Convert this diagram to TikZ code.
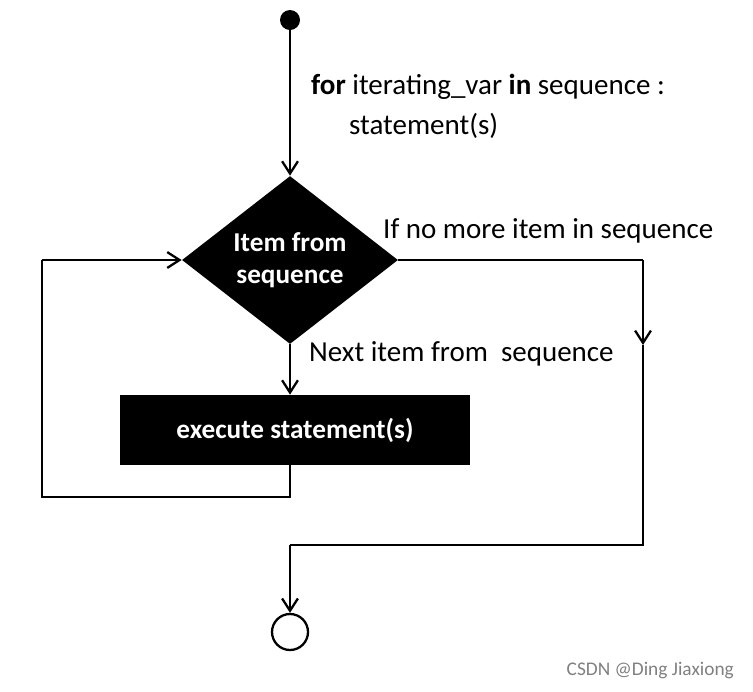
\documentclass[tikz,border=0pt]{standalone}
\usepackage{fontspec}
\setmainfont{Carlito}
\usetikzlibrary{arrows.meta,positioning,shapes.geometric}

\begin{document}
\begin{tikzpicture}[x=0.02cm,y=-0.02cm,
    flow/.style={-{Straight Barb[length=7pt,width=9pt]}, line width=1.3pt},
    line/.style={line width=1.3pt},
    lbl/.style={font=\fontsize{16.5}{20}\selectfont, anchor=west},
    inv/.style={fill=black, text=white, font=\fontsize{15.5}{18}\selectfont\bfseries, align=center}
]
    \useasboundingbox (0,0) rectangle (753,691);

    \node[circle, fill=black, inner sep=0pt, minimum size=20*0.02cm] (start) at (290,20) {};
    \node[diamond, inv, minimum width=216*0.02cm, minimum height=155*0.02cm, inner sep=0pt] (item) at (290,260) {Item from\\sequence};
    \node[rectangle, inv, minimum width=350*0.02cm, minimum height=70*0.02cm] (exec) at (295,430) {execute statement(s)};
    \node[circle, draw, line width=1.3pt, minimum size=36*0.02cm, inner sep=0pt] (stop) at (290,632) {};

    \coordinate (c1) at (290,497);
    \coordinate (c2) at (42,497);
    \coordinate (c3) at (42,260);
    \coordinate (r1) at (643,260);
    \coordinate (r2) at (643,345);
    \coordinate (r3) at (643,545);
    \coordinate (r4) at (290,545);

    % main flow
    \draw[flow] (start) -- (item.north);
    \draw[flow] (item.south) -- (exec.north -| item.south);
    \draw[line] (exec.south -| c1) -- (c1) -- (c2) -- (c3);
    \draw[flow] (c3) -- (item.west);
    \draw[line] (item.east) -- (r1);
    \draw[flow] (r1) -- (r2);
    \draw[line] (r2) -- (r3) -- (r4);
    \draw[flow] (r4) -- (stop.north);

    % labels
    \node[lbl] (head) at (305,87) {\textbf{for} iterating\_var \textbf{in} sequence :};
    \node[lbl] (body) at (343,126) {statement(s)};
    \node[lbl] (nomore) at (377,231) {If no more item in sequence};
    \node[lbl] (next) at (303,354) {Next item from\ \ sequence};
    \node[font=\fontsize{11}{13}\selectfont, text=gray, anchor=east] (mark) at (740,670) {CSDN @Ding Jiaxiong};
\end{tikzpicture}
\end{document}
